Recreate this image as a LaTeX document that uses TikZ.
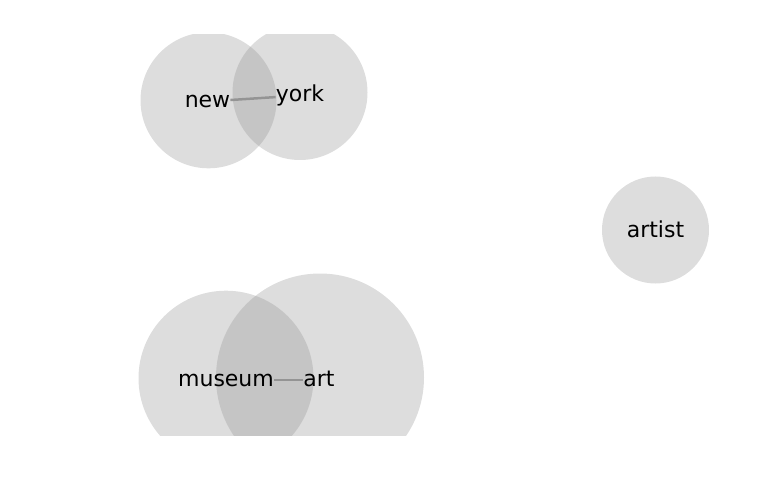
\documentclass[tikz,border=0pt]{standalone}
\usepackage{fontspec}
\setmainfont{DejaVu Sans}
\tikzset{
	word/.style={inner sep=0pt, text height=12pt, text depth=0pt, font=\fontsize{22}{24}\selectfont},
	blob/.style={fill=black!42, fill opacity=0.32, draw=none},
	link/.style={line width=2.5pt, color=black!42}
}
\begin{document}
\begin{tikzpicture}[x=1pt, y=-1pt]
		\useasboundingbox (0,0) rectangle (769,500);
		\coordinate (C1) at (208.5, 100.3);
		\coordinate (C2) at (300, 92.5);
		\coordinate (C3) at (655.5, 230);
		\coordinate (C4) at (226, 378.2);
		\coordinate (C5) at (320, 377.5);
		
		\begin{scope}
		\clip (0,35) rectangle (769,435.5);
		\fill [blob] (C1) circle (68);
		\fill [blob] (C2) circle (67.5);
		\fill [blob] (C3) circle (53.5);
		\fill [blob] (C4) circle (87.5);
		\fill [blob] (C5) circle (104);
		\end{scope}
		
		\node [word] (new) at (207.5, 101.5) {new};
		\node [word] (york) at (300, 95.5) {york};
		\node [word] (artist) at (655.5, 231.5) {artist};
		\node [word] (museum) at (226, 380) {museum};
		\node [word] (art) at (319, 380) {art};
		
		\draw [link] (new) -- (york);
		\draw [link] (museum) -- (art);
	\end{tikzpicture}
\end{document}
